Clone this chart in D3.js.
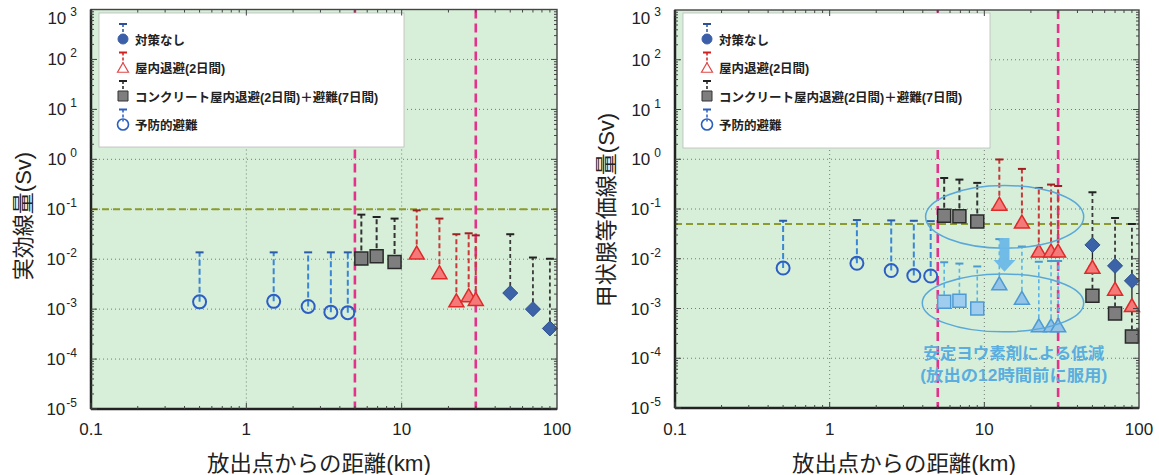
<!DOCTYPE html>
<html><head><meta charset="utf-8">
<script src="https://cdn.jsdelivr.net/npm/d3@7"></script>
<style>
body{margin:0;background:#fff}
svg{display:block}
text{font-family:"Liberation Sans","Noto Sans CJK JP",sans-serif}
</style>
</head><body>
<svg id="c" width="1159" height="475"></svg>
<script>
// ---------------- data ----------------
const distPre=[0.5,1.5,2.5,3.5,4.5];
const distConc=[5.5,6.9,9.0];
const distShelter=[12.5,17.5,22.5,27,30];
const distNone=[50,70,90];
// left panel: effective dose (Sv)
const effPre=[1.4e-3,1.43e-3,1.13e-3,0.87e-3,0.85e-3];
const effPreUp=[0.0137,0.0137,0.0137,0.0137,0.0137];
const effConc=[0.0103,0.0115,0.0088];
const effConcUp=[0.078,0.070,0.065];
const effShelter=[0.0136,0.0055,0.0015,0.0019,0.0016];
const effShelterUp=[0.095,0.065,0.0316,0.033,0.030];
const effNone=[0.0021,0.0010,0.00041];
const effNoneUp=[0.0316,0.0108,0.0102];
// right panel: thyroid equivalent dose (Sv)
const thyPre=[0.0065,0.0081,0.0058,0.0046,0.0045];
const thyPreUp=[0.058,0.060,0.059,0.058,0.057];
const thyConc=[0.073,0.0714,0.056];
const thyConcUp=[0.42,0.39,0.335];
const thyConcKI=[0.00136,0.00143,0.0010];
const thyConcKIUp=[0.0085,0.0080,0.0070];
const thyShelter=[0.128,0.056,0.0146,0.0146,0.0146];
const thyShelterUp=[0.99,0.64,0.265,0.31,0.29];
const thyShelterKI=[0.0032,0.00164,0.00046,0.00046,0.00046];
const thyShelterKIUp=[0.0248,0.0176,0.0087,0.009,0.009];
const thyNone=[0.019,0.0072,0.0036];
const thyNoneUp=[0.217,0.066,0.05];
const thyNoneShelter=[0.0069,0.0025,0.00117];
const thyNoneShelterUp=[0.019,0.0072,0.0036];
const thyNoneConc=[0.0018,0.00079,0.000275];
const thyNoneConcUp=[0.0069,0.0025,0.00117];

const xTicks=[0.1,1,10,100];
const xTickLabels=["0.1","1","10","100"];
const yExponents=[3,2,1,0,-1,-2,-3,-4,-5];
const legendLabels=["対策なし","屋内退避(2日間)","コンクリート屋内退避(2日間)＋避難(7日間)","予防的避難"];
const xTitle="放出点からの距離(km)";
const yTitles=["実効線量(Sv)","甲状腺等価線量(Sv)"];
const zoneLimits=[5,30];
const refDoses=[0.1,0.05];
const noteLines=["安定ヨウ素剤による低減","(放出の12時間前に服用)"];

// ---------------- styles ----------------
const ST={
  pre:{shape:"circle",size:6.5,fill:"none",stroke:"#2d5ec4",sw:2,bar:"#3a86d6",cap:"#2a5aa8",dash:"6,3",bw:2},
  conc:{shape:"square",size:13,fill:"#7e7e7e",stroke:"#2a2a2a",sw:1.5,bar:"#333",cap:"#222",dash:"5,3",bw:2},
  shel:{shape:"triangle",size:15,fill:"#f47a7a",stroke:"#e02a2a",sw:1.5,bar:"#c83a3a",cap:"#a02020",dash:"5,3",bw:2},
  none:{shape:"diamond",size:7.5,fill:"#3c62a8",stroke:"#2c4f8f",sw:1,bar:"#3a3a3a",cap:"#222",dash:"4,3",bw:1.8},
  concKI:{shape:"square",size:13,fill:"#9fcdef",stroke:"#4e9ad4",sw:1.5,bar:"#5ab4e8",cap:"#4a9ad0",dash:"4,3",bw:1.6},
  shelKI:{shape:"triangle",size:15,fill:"#93c4e8",stroke:"#4e9ad4",sw:1.5,bar:"#5ab4e8",cap:"#4a9ad0",dash:"4,3",bw:1.6},
  noneShel:{shape:"triangle",size:15,fill:"#f47a7a",stroke:"#e02a2a",sw:1.5,bar:"#222",cap:"#222",dash:null,bw:1.3},
  noneConc:{shape:"square",size:13,fill:"#7e7e7e",stroke:"#2a2a2a",sw:1.5,bar:"#333",cap:"#222",dash:"4,3",bw:1.8}
};

function markerPath(shape,s){
  if(shape==="square") return `M${-s/2},${-s/2}h${s}v${s}h${-s}Z`;
  if(shape==="triangle"){const h=s*0.866;return `M0,${-h/2}L${s/2},${h/2}L${-s/2},${h/2}Z`;}
  if(shape==="diamond") return `M0,${-s}L${s},0L0,${s}L${-s},0Z`;
  return "";
}
function drawMarker(g,shape,cx,cy,st,size){
  const s=size||st.size;
  if(shape==="circle"){
    g.append("circle").attr("cx",cx).attr("cy",cy).attr("r",s)
     .attr("fill",st.fill).attr("stroke",st.stroke).attr("stroke-width",st.sw);
  } else {
    g.append("path").attr("d",markerPath(shape,s)).attr("transform",`translate(${cx},${cy})`)
     .attr("fill",st.fill).attr("stroke",st.stroke).attr("stroke-width",st.sw).attr("stroke-linejoin","miter");
  }
}
function drawBars(g,x,y,xs,vals,ups,st){
  xs.forEach((d,i)=>{
    const cx=x(d);
    const l=g.append("line").attr("x1",cx).attr("x2",cx).attr("y1",y(vals[i])).attr("y2",y(ups[i]))
      .attr("stroke",st.bar).attr("stroke-width",st.bw);
    if(st.dash) l.attr("stroke-dasharray",st.dash);
    g.append("line").attr("x1",cx-4).attr("x2",cx+4).attr("y1",y(ups[i])).attr("y2",y(ups[i]))
      .attr("stroke",st.cap).attr("stroke-width",2);
  });
}
function drawMarkers(g,x,y,xs,vals,st){
  xs.forEach((d,i)=>drawMarker(g,st.shape,x(d),y(vals[i]),st));
}

const svg=d3.select("#c");
svg.append("rect").attr("width",1159).attr("height",475).attr("fill","#fff");

const panels=[
  {x0:91,x1:557,y0:9.5,y1:409,legend:[99,13,305,134],ytx:23,yty:216,xtx:319,ref:refDoses[0],title:yTitles[0]},
  {x0:675,x1:1139,y0:10,y1:408,legend:[683,13,307,135],ytx:606,yty:210,xtx:904,ref:refDoses[1],title:yTitles[1]}
];

panels.forEach((P,pi)=>{
  const x=d3.scaleLog().domain([0.1,100]).range([P.x0,P.x1]);
  const y=d3.scaleLog().domain([1e-5,1e3]).range([P.y1,P.y0]);
  const g=svg.append("g");
  // background
  g.append("rect").attr("x",P.x0).attr("y",P.y0).attr("width",P.x1-P.x0).attr("height",P.y1-P.y0).attr("fill","#d7efd9");
  // grid
  const grid=g.append("g").attr("stroke","#555").attr("stroke-width",1).attr("stroke-dasharray","1,3").attr("opacity",0.75);
  yExponents.filter(e=>e<3&&e>-5).forEach(e=>{
    grid.append("line").attr("x1",P.x0).attr("x2",P.x1).attr("y1",y(Math.pow(10,e))).attr("y2",y(Math.pow(10,e)));
  });
  [1,10].forEach(v=>grid.append("line").attr("x1",x(v)).attr("x2",x(v)).attr("y1",P.y0).attr("y2",P.y1));
  // reference dose line
  g.append("line").attr("x1",P.x0).attr("x2",P.x1).attr("y1",y(P.ref)).attr("y2",y(P.ref))
    .attr("stroke","#8c9b2f").attr("stroke-width",2).attr("stroke-dasharray","7,4");
  // zone lines
  zoneLimits.forEach(v=>g.append("line").attr("x1",x(v)).attr("x2",x(v)).attr("y1",P.y0).attr("y2",P.y1)
    .attr("stroke","#e4328c").attr("stroke-width",2.6).attr("stroke-dasharray","9,5"));
  // legend
  const [lx,ly,lw,lh]=P.legend;
  const lg=g.append("g");
  lg.append("rect").attr("x",lx).attr("y",ly).attr("width",lw).attr("height",lh).attr("fill","#fff").attr("stroke","#bbb").attr("stroke-width",0.8);
  const legStyles=[
    {shape:"circle",size:5,fill:"#3b5fa8",stroke:"#3b5fa8",sw:1,bar:"#2c4f9a",cap:"#2c4f9a",dash:"3,2"},
    {shape:"triangle",size:11,fill:"#fff",stroke:"#e04848",sw:1.2,bar:"#d02020",cap:"#d02020",dash:"3,2"},
    {shape:"square",size:10,fill:"#7e7e7e",stroke:"#333",sw:1,bar:"#222",cap:"#222",dash:"3,2"},
    {shape:"circle",size:5.5,fill:"none",stroke:"#2a5fc0",sw:1.6,bar:"#2a5fc0",cap:"#2a5fc0",dash:"3,2"}
  ];
  const gx=lx+24, tx=lx+36;
  legendLabels.forEach((lab,i)=>{
    const cy=ly+27+i*28.5;
    const st=legStyles[i];
    lg.append("line").attr("x1",gx).attr("x2",gx).attr("y1",cy-16).attr("y2",cy-4)
      .attr("stroke",st.bar).attr("stroke-width",1.5).attr("stroke-dasharray",st.dash);
    lg.append("line").attr("x1",gx-4).attr("x2",gx+4).attr("y1",cy-16).attr("y2",cy-16).attr("stroke",st.cap).attr("stroke-width",2);
    drawMarker(lg,st.shape,gx,cy-1,st);
    lg.append("text").attr("x",tx).attr("y",cy+4.5).attr("font-size",12.5).attr("font-weight","bold")
      .attr("fill","#222").text(lab);
  });

  const dg=g.append("g");
  if(pi===0){
    drawBars(dg,x,y,distPre,effPre,effPreUp,ST.pre);
    drawBars(dg,x,y,distConc,effConc,effConcUp,ST.conc);
    drawBars(dg,x,y,distShelter,effShelter,effShelterUp,ST.shel);
    drawBars(dg,x,y,distNone,effNone,effNoneUp,ST.none);
    drawMarkers(dg,x,y,distPre,effPre,ST.pre);
    drawMarkers(dg,x,y,distConc,effConc,ST.conc);
    drawMarkers(dg,x,y,distShelter,effShelter,ST.shel);
    drawMarkers(dg,x,y,distNone,effNone,ST.none);
  } else {
    // ellipses (annotation, in data coordinates)
    const ells=[{x:[4.17,43.9],y:[0.296,0.0163]},{x:[3.97,43.9],y:[4.94e-3,3.39e-4]}];
    ells.forEach(e=>{
      const xa=x(e.x[0]),xb=x(e.x[1]),ya=y(e.y[0]),yb=y(e.y[1]);
      g.append("ellipse").attr("cx",(xa+xb)/2).attr("cy",(ya+yb)/2).attr("rx",(xb-xa)/2).attr("ry",(yb-ya)/2)
        .attr("fill","none").attr("stroke","#5aa8d8").attr("stroke-width",1.5);
    });
    drawBars(dg,x,y,distPre,thyPre,thyPreUp,ST.pre);
    drawBars(dg,x,y,distConc,thyConc,thyConcUp,ST.conc);
    drawBars(dg,x,y,distConc,thyConcKI,thyConcKIUp,ST.concKI);
    drawBars(dg,x,y,distShelter,thyShelter,thyShelterUp,ST.shel);
    drawBars(dg,x,y,distShelter,thyShelterKI,thyShelterKIUp,ST.shelKI);
    drawBars(dg,x,y,distNone,thyNoneConc,thyNoneConcUp,ST.noneConc);
    drawBars(dg,x,y,distNone,thyNoneShelter,thyNoneShelterUp,ST.noneShel);
    drawBars(dg,x,y,distNone,thyNone,thyNoneUp,ST.none);
    drawMarkers(dg,x,y,distPre,thyPre,ST.pre);
    drawMarkers(dg,x,y,distConc,thyConc,ST.conc);
    drawMarkers(dg,x,y,distConc,thyConcKI,ST.concKI);
    drawMarkers(dg,x,y,distShelter,thyShelter,ST.shel);
    drawMarkers(dg,x,y,distShelter,thyShelterKI,ST.shelKI);
    drawMarkers(dg,x,y,distNone,thyNoneConc,ST.noneConc);
    drawMarkers(dg,x,y,distNone,thyNoneShelter,ST.noneShel);
    drawMarkers(dg,x,y,distNone,thyNone,ST.none);
    // arrow
    const ax=x(13.5), a0=y(0.026), a1=y(0.0094), a2=y(0.0055);
    g.append("path").attr("d",`M${ax-5},${a0}L${ax+5},${a0}L${ax+5},${a1}L${ax+11},${a1}L${ax},${a2}L${ax-11},${a1}L${ax-5},${a1}Z`)
      .attr("fill","#6cb8e8").attr("opacity",0.95);
    // note
    const nx=x(15.5);
    [[1.3e-4,181],[4.6e-5,187]].forEach((p,i)=>{
      g.append("text").attr("x",nx).attr("y",y(p[0])+6).attr("text-anchor","middle")
        .attr("font-size",16).attr("font-weight","bold").attr("fill","#5aaedf")
        .attr("textLength",p[1]).attr("lengthAdjust","spacingAndGlyphs").text(noteLines[i]);
    });
  }

  // frame
  g.append("rect").attr("x",P.x0).attr("y",P.y0).attr("width",P.x1-P.x0).attr("height",P.y1-P.y0)
    .attr("fill","none").attr("stroke","#444").attr("stroke-width",1.4);
  g.append("line").attr("x1",P.x0).attr("x2",P.x0).attr("y1",P.y0).attr("y2",P.y1).attr("stroke","#222").attr("stroke-width",2.5);
  g.append("line").attr("x1",P.x0).attr("x2",P.x1).attr("y1",P.y1).attr("y2",P.y1).attr("stroke","#222").attr("stroke-width",2.5);
  // ticks
  const tk=g.append("g").attr("stroke","#444").attr("stroke-width",1);
  for(let e=-5;e<3;e++){
    for(let m=1;m<10;m++){
      const v=m*Math.pow(10,e), yy=y(v), L=m===1?6:3;
      tk.append("line").attr("x1",P.x0).attr("x2",P.x0+L).attr("y1",yy).attr("y2",yy);
      tk.append("line").attr("x1",P.x1).attr("x2",P.x1-L).attr("y1",yy).attr("y2",yy);
    }
  }
  for(let e=-1;e<2;e++){
    for(let m=1;m<10;m++){
      const v=m*Math.pow(10,e), xx=x(v), L=m===1?6:3;
      tk.append("line").attr("x1",xx).attr("x2",xx).attr("y1",P.y1).attr("y2",P.y1-L);
      tk.append("line").attr("x1",xx).attr("x2",xx).attr("y1",P.y0).attr("y2",P.y0+L);
    }
  }
  // y tick labels
  yExponents.forEach(e=>{
    const yy=Math.max(y(Math.pow(10,e)),P.y0+8);
    const t=g.append("text").attr("x",P.x0-14).attr("y",yy+6).attr("text-anchor","end").attr("fill","#222");
    t.append("tspan").attr("font-size",17).text("10");
    t.append("tspan").attr("font-size",12).attr("dx",e>=0?4:1).attr("dy",-8).text(e>=0?String(e):"-"+(-e));
  });
  // x tick labels
  xTicks.forEach((v,i)=>{
    g.append("text").attr("x",x(v)).attr("y",435).attr("text-anchor","middle").attr("font-size",17).attr("fill","#222").text(xTickLabels[i]);
  });
  // titles
  g.append("text").attr("x",P.xtx).attr("y",471).attr("text-anchor","middle").attr("font-size",22).attr("fill","#222")
    .attr("textLength",224).attr("lengthAdjust","spacingAndGlyphs").text(xTitle);
  g.append("text").attr("transform",`translate(${P.ytx},${P.yty}) rotate(-90)`).attr("text-anchor","middle")
    .attr("dy","0.35em").attr("font-size",22).attr("fill","#222").text(P.title);
});
</script>
</body></html>
